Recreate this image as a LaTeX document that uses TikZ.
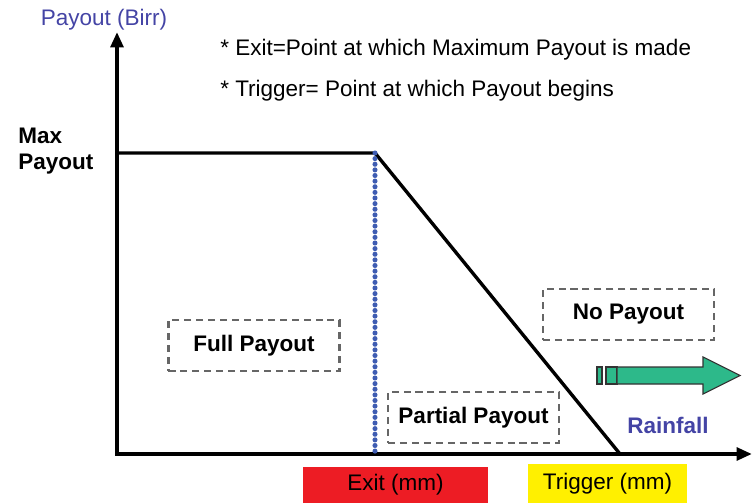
\documentclass[tikz,border=0pt]{standalone}
\usepackage{fontspec}
\setmainfont{Liberation Sans}
\usetikzlibrary{arrows.meta,positioning}
\definecolor{axisblue}{RGB}{68,68,165}
\definecolor{dotblue}{RGB}{62,92,178}
\definecolor{exitred}{RGB}{237,28,36}
\definecolor{trigyellow}{RGB}{255,240,0}
\definecolor{raingreen}{RGB}{45,185,138}

\begin{document}
\begin{tikzpicture}[x=0.025cm, y=-0.025cm, font=\fontsize{16}{19}\selectfont,
                    region node/.style={draw=black!60, dash pattern=on 5pt off 3.5pt, line width=1.5pt,
                      minimum width=4.275cm, minimum height=1.275cm, font=\fontsize{16}{19}\selectfont\bfseries},
                    mm node/.style={inner sep=0pt, font=\fontsize{16}{19}\selectfont},
                    note node/.style={inner sep=0pt, anchor=west},
                    axis line/.style={line width=3pt, line join=miter, {Triangle[length=11pt,width=9pt]}-{Triangle[length=11pt,width=9pt]}},
                    rain arrow/.style={fill=raingreen, draw=black!80, line width=0.8pt}]
  \useasboundingbox (0,0) rectangle (753,503);

  \coordinate (O) at (117,454);
  \coordinate (ytop) at (117,32);
  \coordinate (xend) at (752,454);
  \coordinate (maxpt) at (117,153);
  \coordinate (exitpt) at (375,153);
  \coordinate (exitfoot) at (375,454);
  \coordinate (trigpt) at (620,454);

  \node[mm node, fill=exitred, minimum width=4.625cm, minimum height=0.9cm] (exit) at (395.5,485) {Exit (mm)};
  \node[mm node, fill=trigyellow, minimum width=3.975cm, minimum height=0.975cm] (trigger) at (607.5,483.5) {Trigger (mm)};

  \draw[axis line] (ytop) -- (O) -- (xend);
  \draw[line width=2.4pt] (maxpt) -- (exitpt) -- (trigpt);
  \draw[dotblue, line width=3.6pt, line cap=round, dash pattern=on 0pt off 4pt] (exitpt) -- (exitfoot);

  \node[axisblue] (yname) at (104,20) {Payout (Birr)};
  \node[note node] (exit note) at (220,50) {* Exit=Point at which Maximum Payout is made};
  \node[note node] (trig note) [below=0.48cm of exit note.south west, anchor=north west] {* Trigger= Point at which Payout begins};
  \node[inner sep=0pt, anchor=west, align=left, font=\fontsize{16}{19}\selectfont\bfseries] (maxname) at (18,151) {Max\\Payout};

  \node[region node] (full) at (254,345.5) {Full Payout};
  \node[region node] (partial) at (473.5,417.5) {Partial Payout};
  \node[region node] (none) at (628.5,314.5) {No Payout};

  \draw[rain arrow] (597,367) rectangle (602,384);
  \draw[rain arrow] (606,367) rectangle (617,384);
  \draw[rain arrow] (617,367) -- (703,367) -- (703,357) -- (740,375.5) -- (703,394) -- (703,384) -- (617,384) -- cycle;
  \node[axisblue, font=\fontsize{16}{19}\selectfont\bfseries] (rain) at (668,425) {Rainfall};
\end{tikzpicture}
\end{document}
